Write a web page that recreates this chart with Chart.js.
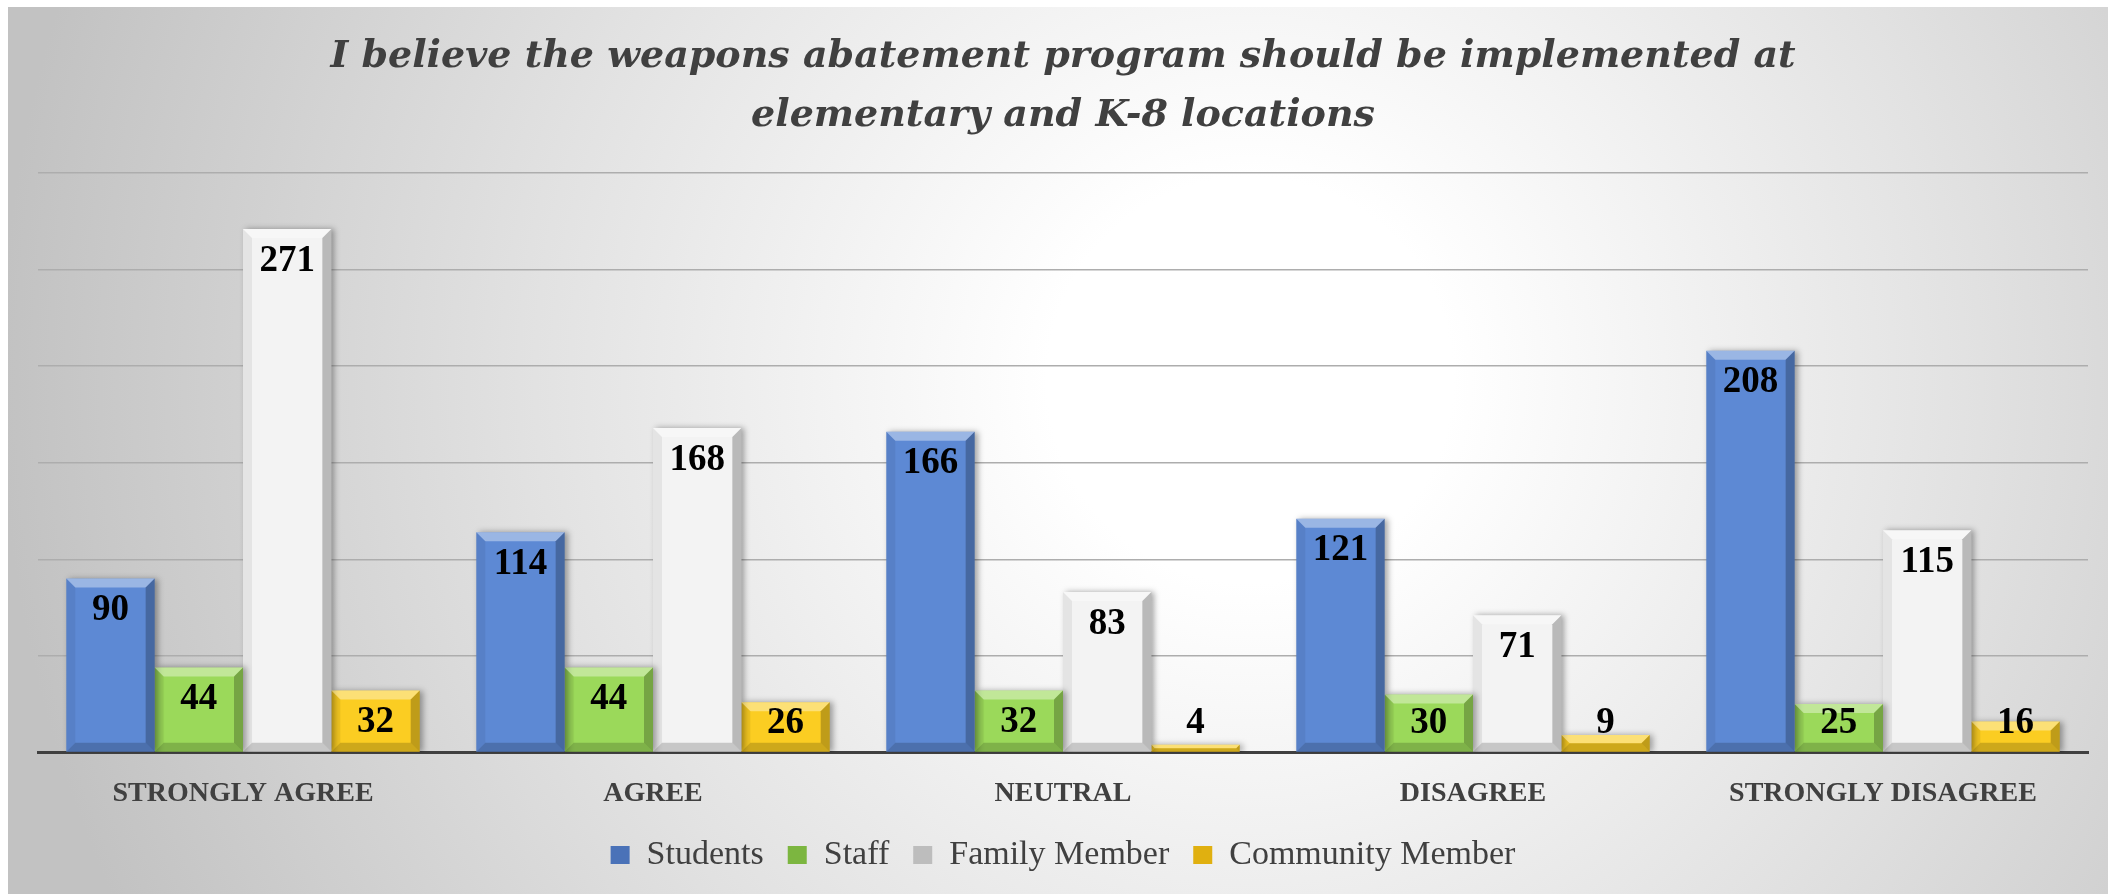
<!DOCTYPE html>
<html>
<head>
<meta charset="utf-8">
<script src="https://cdn.jsdelivr.net/npm/chart.js@4.4.1/dist/chart.umd.min.js"></script>
<style>
  html, body { margin: 0; padding: 0; background: #fff; }
  #wrap { width: 2108px; height: 894px; position: relative; }
</style>
</head>
<body>
<div id="wrap"><canvas id="c"></canvas></div>
<script>
// Survey answers by respondent group
const categories = ['STRONGLY AGREE', 'AGREE', 'NEUTRAL', 'DISAGREE', 'STRONGLY DISAGREE'];
const students   = [90, 114, 166, 121, 208];
const staff      = [44, 44, 32, 30, 25];
const family     = [271, 168, 83, 71, 115];
const community  = [32, 26, 4, 9, 16];
const yTicks     = [0, 50, 100, 150, 200, 250, 300];

const SERIF = '"Liberation Serif", "DejaVu Serif", serif';
const INK   = '#404040';

// ── Background: grey radial wash with a thin white frame ─────
const bgPlugin = {
  id: 'bg',
  beforeDraw(chart) {
    const { ctx, width, height } = chart;
    ctx.save();
    ctx.fillStyle = '#ffffff';
    ctx.fillRect(0, 0, width, height);
    const g = ctx.createRadialGradient(1250, 380, 60, 1250, 380, 1250);
    g.addColorStop(0, '#ffffff');
    g.addColorStop(0.12, '#ffffff');
    g.addColorStop(0.55, '#e2e2e2');
    g.addColorStop(1, '#c2c2c2');
    ctx.fillStyle = g;
    ctx.fillRect(8, 7, width - 8, height - 7);
    ctx.restore();
  }
};

// ── Bevelled bar look + drop shadow ──────────────────────────
const bevelPlugin = {
  id: 'bevel',
  beforeDatasetsDraw(chart) {
    const ctx = chart.ctx;
    ctx.save();
    ctx.shadowColor = 'rgba(0,0,0,0.35)';
    ctx.shadowBlur = 6;
    ctx.shadowOffsetX = 3;
    ctx.shadowOffsetY = 0;
  },
  afterDatasetsDraw(chart) {
    const ctx = chart.ctx;
    ctx.restore();
    ctx.save();
    chart.data.datasets.forEach((ds, di) => {
      chart.getDatasetMeta(di).data.forEach(bar => {
        const { x, y, base, width } = bar.getProps(['x', 'y', 'base', 'width'], true);
        const l = x - width / 2, r = x + width / 2, t = y, B = base;
        const b = Math.min(9, (B - t) / 2);
        const poly = (pts, fill) => {
          ctx.beginPath();
          ctx.moveTo(pts[0][0], pts[0][1]);
          pts.slice(1).forEach(p => ctx.lineTo(p[0], p[1]));
          ctx.closePath();
          ctx.fillStyle = fill;
          ctx.fill();
        };
        poly([[l, t], [r, t], [r - b, t + b], [l + b, t + b]], 'rgba(255,255,255,0.38)');
        poly([[l, t], [l + b, t + b], [l + b, B - b], [l, B]], 'rgba(0,0,0,0.06)');
        poly([[r, t], [r - b, t + b], [r - b, B - b], [r, B]], 'rgba(0,0,0,0.24)');
        poly([[l, B], [l + b, B - b], [r - b, B - b], [r, B]], 'rgba(0,0,0,0.18)');
      });
    });
    ctx.restore();
  }
};

// ── Value labels near the top of each bar ────────────────────
const labelPlugin = {
  id: 'vlabels',
  afterDraw(chart) {
    const ctx = chart.ctx;
    ctx.save();
    ctx.font = 'bold 37px ' + SERIF;
    ctx.fillStyle = '#000';
    ctx.textAlign = 'center';
    ctx.textBaseline = 'middle';
    chart.data.datasets.forEach((ds, di) => {
      chart.getDatasetMeta(di).data.forEach((bar, i) => {
        const { x, y, base } = bar.getProps(['x', 'y', 'base'], true);
        const cy = Math.min(y + 32, base - 28);
        ctx.fillText(String(ds.data[i]), x, cy);
      });
    });
    ctx.restore();
  }
};

const legendColors = ['#4a72b8', '#7cb640', '#bdbdbd', '#e0b010'];

new Chart(document.getElementById('c'), {
  type: 'bar',
  data: {
    labels: categories,
    datasets: [
      { label: 'Students',         data: students,  backgroundColor: '#5d89d4' },
      { label: 'Staff',            data: staff,     backgroundColor: '#9bd95a' },
      { label: 'Family Member',    data: family,    backgroundColor: '#f3f3f3' },
      { label: 'Community Member', data: community, backgroundColor: '#fbcd22' }
    ]
  },
  options: {
    responsive: true,
    maintainAspectRatio: false,
    animation: false,
    events: [],
    datasets: { bar: { categoryPercentage: 0.862, barPercentage: 1.0, borderWidth: 0 } },
    layout: { padding: { left: 38, right: 20, top: 0, bottom: 12 } },
    plugins: {
      title: {
        display: true,
        text: ['I believe the weapons abatement program should be implemented at',
               'elementary and K-8 locations'],
        color: INK,
        font: { family: '"DejaVu Serif", serif', size: 38, weight: 'bold', style: 'italic', lineHeight: 1.54 },
        padding: { top: 28, bottom: 28 }
      },
      legend: {
        position: 'bottom',
        labels: {
          color: INK,
          font: { family: SERIF, size: 34 },
          boxWidth: 19,
          boxHeight: 18,
          padding: 24,
          generateLabels(chart) {
            return chart.data.datasets.map((ds, i) => ({
              text: ds.label,
              fillStyle: legendColors[i],
              strokeStyle: legendColors[i],
              lineWidth: 0,
              fontColor: INK,
              datasetIndex: i
            }));
          }
        }
      },
      tooltip: { enabled: false }
    },
    scales: {
      x: {
        grid: { display: false },
        border: { display: true, color: '#404040', width: 3 },
        afterFit(scale) { scale.height -= 14; },
        ticks: {
          color: INK,
          padding: 17,
          font: { family: SERIF, size: 28, weight: 'bold' }
        }
      },
      y: {
        min: 0,
        max: 300,
        afterBuildTicks(scale) { scale.ticks = yTicks.map(v => ({ value: v })); },
        grid: { color: '#adadad', lineWidth: 1.5, drawTicks: false },
        border: { display: false },
        ticks: { display: false }
      }
    }
  },
  plugins: [bgPlugin, bevelPlugin, labelPlugin]
});
</script>
</body>
</html>
